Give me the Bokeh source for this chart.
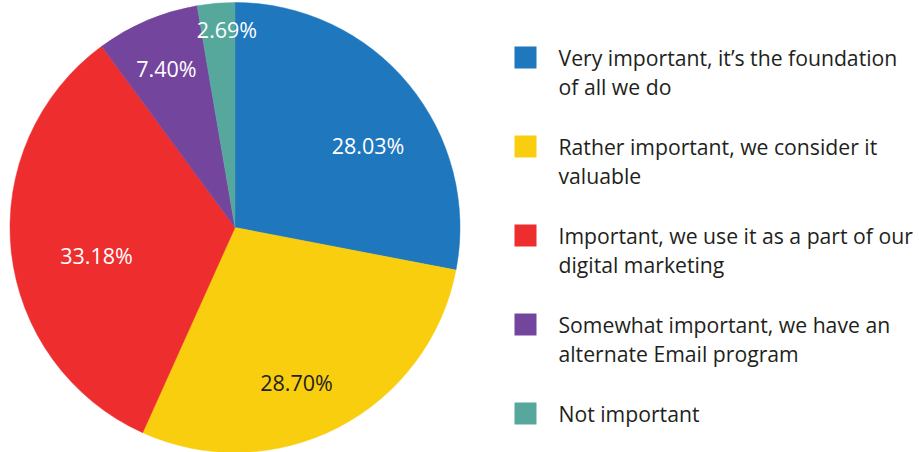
import math
from bokeh.plotting import figure
from bokeh.models import Range1d, ColumnDataSource
from bokeh.core.properties import value
from bokeh.embed import file_html
from bokeh.resources import INLINE

# ---- data ----
categories = [
    "Very important, it\u2019s the foundation\nof all we do",
    "Rather important, we consider it\nvaluable",
    "Important, we use it as a part of our\ndigital marketing",
    "Somewhat important, we have an\nalternate Email program",
    "Not important",
]
shares = [28.03, 28.70, 33.18, 7.40, 2.69]
value_labels = ["28.03%", "28.70%", "33.18%", "7.40%", "2.69%"]

# ---- styles ----
colors = ["#1F77BE", "#F9CE0E", "#EE2D2F", "#74459D", "#56A89D"]
label_colors = ["white", "#231F20", "white", "white", "white"]
label_radius = [155.6, 168.3, 141.6, 172.0, 196.2]
label_angle_shift = [8.3, 6.0, -6.0, -0.5, 2.5]  # degrees, clockwise

W, H = 919, 452
CX, CY, R = 234.5, 227.0, 225.0  # pixel coordinates from top-left

p = figure(width=W, height=H, output_backend="svg", toolbar_location=None,
           x_range=Range1d(0, W), y_range=Range1d(-H, 0),
           min_border=0)
p.axis.visible = False
p.grid.visible = False
p.outline_line_color = None
p.background_fill_color = "white"
p.border_fill_color = "white"

total = sum(shares)
starts, ends, lx, ly = [], [], [], []
cum = 0.0
for i, s in enumerate(shares):
    a0 = cum / total
    cum += s
    a1 = cum / total
    starts.append(math.pi / 2 - a0 * 2 * math.pi)
    ends.append(math.pi / 2 - a1 * 2 * math.pi)
    mid_deg = (a0 + a1) / 2 * 360 + label_angle_shift[i]
    th = math.radians(mid_deg)
    lx.append(CX + label_radius[i] * math.sin(th))
    ly.append(-(CY - label_radius[i] * math.cos(th)) + 1.5)

src = ColumnDataSource(dict(start=starts, end=ends, color=colors,
                            lx=lx, ly=ly, lab=value_labels, lc=label_colors))
p.wedge(x=CX, y=-CY, radius=R, radius_units="screen",
        start_angle="start", end_angle="end", direction="clock",
        fill_color="color", line_color="color", line_width=0.5, source=src)

p.text(x="lx", y="ly", text="lab", text_color="lc", source=src,
       text_font=value("Open Sans"), text_font_size="21.5px",
       text_align="center", text_baseline="middle")

# ---- legend ----
sq_x, sq_size, txt_x = 525, 22, 558
sq_tops = [46 + 89 * i for i in range(len(categories))]
p.rect(x=[sq_x] * len(categories), y=[-(t + sq_size / 2) for t in sq_tops],
       width=sq_size, height=sq_size, width_units="screen", height_units="screen",
       fill_color=colors, line_color=None)

tx, ty, tt = [], [], []
for t, cat in zip(sq_tops, categories):
    for j, line in enumerate(cat.split("\n")):
        tx.append(txt_x)
        ty.append(-(t + 11 + 28.5 * j))
        tt.append(line)
p.text(x=tx, y=ty, text=tt, text_color="#231F20",
       text_font=value("Open Sans"), text_font_size="21.2px",
       text_align="left", text_baseline="alphabetic")

open("out.html", "w").write(file_html(p, INLINE))
